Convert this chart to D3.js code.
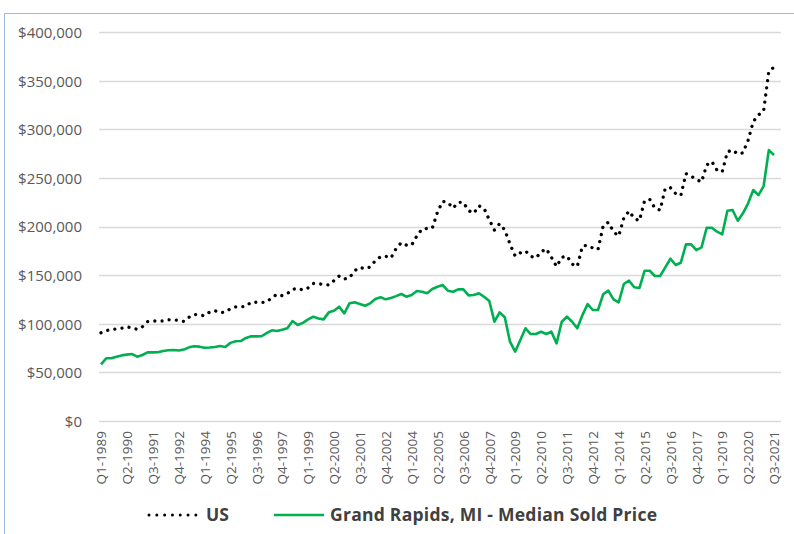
<!DOCTYPE html>
<html>
<head>
<meta charset="utf-8">
<script src="https://cdn.jsdelivr.net/npm/d3@7"></script>
<style>
  body { margin: 0; background: #fff; }
  text { font-family: "Open Sans", sans-serif; }
</style>
</head>
<body>
<div id="chart"></div>
<script>
// quarters Q1-1989 .. Q3-2021
var quarters = [];
for (var yr = 1989; yr <= 2021; yr++) {
  for (var q = 1; q <= 4; q++) {
    if (yr === 2021 && q > 3) break;
    quarters.push("Q" + q + "-" + yr);
  }
}

var tickLabels = ["Q1-1989","Q2-1990","Q3-1991","Q4-1992","Q1-1994","Q2-1995","Q3-1996",
  "Q4-1997","Q1-1999","Q2-2000","Q3-2001","Q4-2002","Q1-2004","Q2-2005","Q3-2006",
  "Q4-2007","Q1-2009","Q2-2010","Q3-2011","Q4-2012","Q1-2014","Q2-2015","Q3-2016",
  "Q4-2017","Q1-2019","Q2-2020","Q3-2021"];

var yTicks = [0, 50000, 100000, 150000, 200000, 250000, 300000, 350000, 400000];

var usPrice = [
  90800, 93000, 94300, 94800, 95500, 96800, 96000, 94300, 97000, 102200,
  102900, 102900, 102900, 104200, 104000, 103500, 102500, 106800, 109700, 109000,
  108300, 112200, 113500, 111400, 112000, 115500, 117400, 117600, 118000, 122300,
  122200, 122000, 122400, 126900, 130400, 129000, 131000, 135500, 136500, 134800,
  137000, 141500, 141300, 140500, 139900, 144400, 149200, 146100, 147500, 154600,
  158100, 156700, 158500, 165000, 169000, 169500, 167700, 177500, 183400, 181000,
  181000, 190300, 197500, 198200, 198500, 215000, 226000, 225000, 219000, 225000,
  225000, 216500, 213700, 221500, 218800, 207000, 196500, 203000, 196500, 182100,
  169800, 173000, 175000, 169500, 167700, 173900, 177300, 168500, 159000, 168400,
  169800, 161500, 159000, 180000, 180700, 178000, 176500, 200600, 204500, 194800,
  190300, 209000, 216000, 208500, 206100, 226600, 228100, 219000, 217000, 239500,
  240000, 234000, 232000, 254500, 252000, 248500, 246000, 263400, 267000, 258000,
  256500, 277000, 278800, 274700, 276000, 289000, 308000, 315000, 319000, 360000,
  364000
];

var grPrice = [
  58300, 64500, 64600, 66200, 67500, 68300, 68900, 66200, 67900, 70700,
  70600, 70700, 72000, 72800, 73000, 72500, 73500, 75800, 77000, 76500,
  75400, 75600, 76200, 77200, 76100, 80400, 82000, 82300, 85500, 87100,
  87100, 87200, 90500, 93300, 92600, 94000, 95400, 102900, 98800, 101000,
  104500, 107300, 105500, 104600, 111800, 113500, 117600, 110800, 121100, 122100,
  120400, 118600, 121100, 125500, 127300, 125200, 126500, 128500, 130700, 127900,
  129600, 133700, 133000, 131400, 135800, 138200, 139900, 134100, 133000, 135500,
  135500, 129300, 129600, 131400, 127900, 123500, 102200, 111800, 106700, 81600,
  71300, 83300, 95400, 89500, 89500, 91900, 89500, 91900, 79900, 102200,
  107300, 102200, 95400, 109000, 120400, 114200, 114200, 130400, 134100, 125200,
  122100, 141000, 144400, 137600, 136800, 154600, 154600, 149200, 149200, 158100,
  167000, 160500, 162900, 181800, 181800, 175900, 178700, 198900, 198900, 194800,
  192100, 216400, 217100, 206100, 213700, 224000, 237700, 232500, 241800, 278800,
  273700
];

var seriesNames = ["US", "Grand Rapids, MI - Median Sold Price"];

var width = 794, height = 534;
var gridLeft = 99, gridRight = 781;

var svg = d3.select("#chart").append("svg")
  .attr("width", width)
  .attr("height", height);

// light blue frame of the chart area
svg.append("path")
  .attr("d", "M4.5,534 L4.5,13.5 L794,13.5")
  .attr("fill", "none")
  .attr("stroke", "#9bb8dd")
  .attr("stroke-width", 1);

var x = d3.scalePoint()
  .domain(quarters)
  .range([101, 774]);

var y = d3.scaleLinear()
  .domain([0, 400000])
  .range([421, 32.3]);

// gridlines + y labels
var yAxis = d3.axisLeft(y)
  .tickValues(yTicks)
  .tickSize(0)
  .tickFormat(d3.format("$,.0f"));

var gy = svg.append("g")
  .attr("transform", "translate(" + gridLeft + ",0)")
  .call(yAxis);
gy.select(".domain").remove();
gy.selectAll("text")
  .attr("x", -17)
  .attr("dy", "0.35em")
  .attr("fill", "#595959")
  .style("font-size", "15px");

svg.append("g").selectAll("line")
  .data(yTicks)
  .enter().append("line")
  .attr("x1", gridLeft)
  .attr("x2", gridRight)
  .attr("y1", function (d) { return Math.round(y(d)) + 0.5; })
  .attr("y2", function (d) { return Math.round(y(d)) + 0.5; })
  .attr("stroke", "#d9d9d9")
  .attr("stroke-width", 1.5);

// x axis labels
var xAxis = d3.axisBottom(x)
  .tickValues(tickLabels)
  .tickSize(0);

var gx = svg.append("g")
  .attr("transform", "translate(0," + y(0) + ")")
  .call(xAxis);
gx.select(".domain").remove();
gx.selectAll("text")
  .attr("transform", "rotate(-90)")
  .attr("x", -10)
  .attr("y", 0)
  .attr("dy", "0.35em")
  .attr("text-anchor", "end")
  .attr("fill", "#595959")
  .style("font-size", "13.5px");

// lines
var priceLine = d3.line()
  .x(function (d, i) { return x(quarters[i]); })
  .y(function (d) { return y(d); });

svg.append("path")
  .datum(grPrice)
  .attr("d", priceLine)
  .attr("fill", "none")
  .attr("stroke", "#00b050")
  .attr("stroke-width", 2.6)
  .attr("stroke-linejoin", "round");

svg.append("path")
  .datum(usPrice)
  .attr("d", priceLine)
  .attr("fill", "none")
  .attr("stroke", "#000")
  .attr("stroke-width", 3.3)
  .attr("stroke-linecap", "round")
  .attr("stroke-dasharray", "0.01 7.2");

// legend
var legend = svg.append("g");
legend.append("line")
  .attr("x1", 149).attr("x2", 196)
  .attr("y1", 515).attr("y2", 515)
  .attr("stroke", "#000")
  .attr("stroke-width", 3)
  .attr("stroke-linecap", "round")
  .attr("stroke-dasharray", "0.01 7.8");
legend.append("text")
  .attr("x", 206)
  .attr("y", 521)
  .attr("fill", "#404040")
  .style("font-size", "17.5px")
  .style("font-weight", "bold")
  .text(seriesNames[0]);

legend.append("line")
  .attr("x1", 274).attr("x2", 324)
  .attr("y1", 515).attr("y2", 515)
  .attr("stroke", "#00b050")
  .attr("stroke-width", 2.6);
legend.append("text")
  .attr("x", 330)
  .attr("y", 521)
  .attr("fill", "#404040")
  .style("font-size", "17.5px")
  .style("font-weight", "bold")
  .attr("textLength", 327)
  .text(seriesNames[1]);
</script>
</body>
</html>
